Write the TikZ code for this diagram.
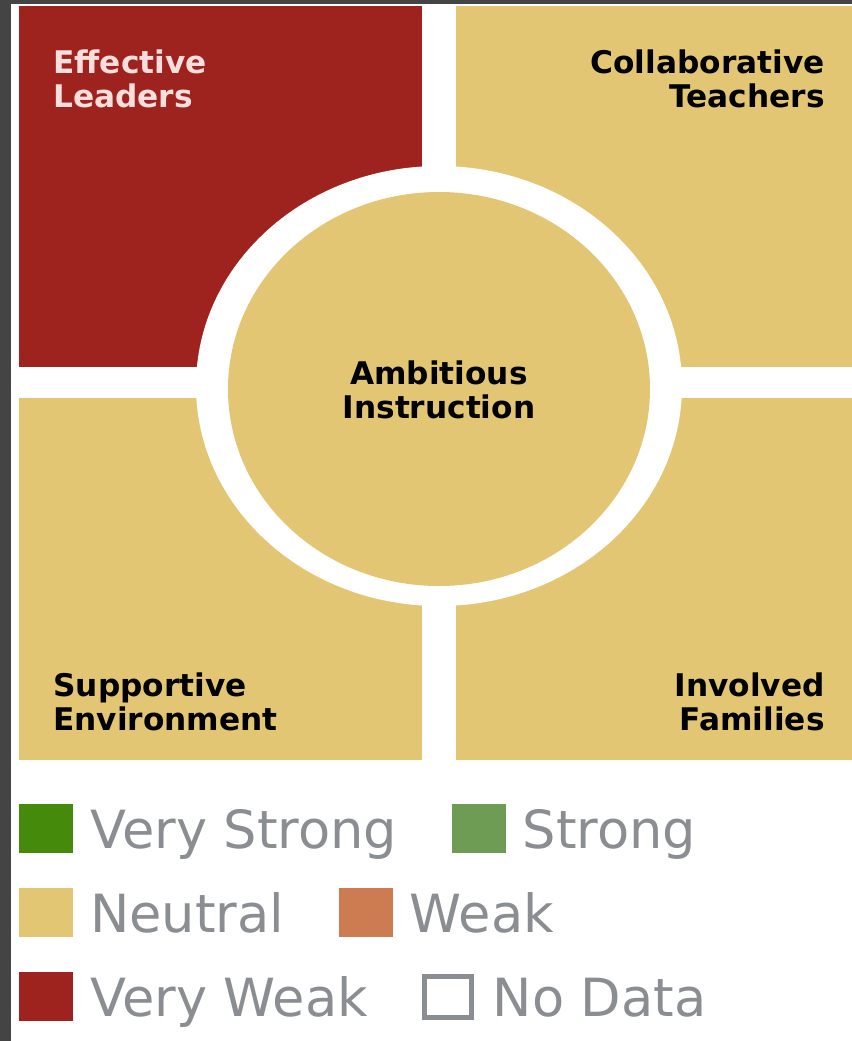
\documentclass[tikz,border=0pt]{standalone}
\usepackage{fontspec}
\setmainfont{DejaVu Sans}
\usetikzlibrary{positioning}
\definecolor{veryweak}{HTML}{9E231E}
\definecolor{neutral}{HTML}{E3C673}
\definecolor{verystrong}{HTML}{468A0C}
\definecolor{strong}{HTML}{6E9C55}
\definecolor{weak}{HTML}{CD7C52}
\definecolor{keygray}{HTML}{8A8D91}
\definecolor{leadertext}{HTML}{F8DEDC}
\definecolor{framegray}{HTML}{444444}

\begin{document}
\begin{tikzpicture}[x=0.5pt,y=-0.5pt,node distance=8pt and 8pt,
  quad/.style={font=\fontsize{15.6}{17}\selectfont\bfseries,inner sep=0pt},
  keybox/.style={minimum width=27pt,minimum height=24.5pt,inner sep=0pt},
  keytext/.style={font=\fontsize{26.3}{30}\selectfont,text=keygray,inner sep=0pt,
    text height=19.2pt,text depth=0pt}]
\useasboundingbox (0,0) rectangle (852,1041);
\fill[white] (0,0) rectangle (852,1041);
\fill[framegray] (0,0) rectangle (11,1041);
\fill[framegray] (0,0) rectangle (852,4);
% quadrants
\fill[veryweak] (19,6) rectangle (422,367);
\fill[neutral] (456,6) rectangle (852,367);
\fill[neutral] (19,398) rectangle (422,760);
\fill[neutral] (456,398) rectangle (852,760);
% centre
\fill[white] (439,386) ellipse [x radius=243,y radius=220];
\fill[neutral] (439,389) ellipse [x radius=211,y radius=197];

\node (leaders) [quad,text=leadertext,align=left,anchor=north west] at (53,49) {Effective\\Leaders};
\node (teachers) [quad,align=right,anchor=north east] at (825,49) {Collaborative\\Teachers};
\node (environment) [quad,align=left,anchor=south west] at (53,731) {Supportive\\Environment};
\node (families) [quad,align=right,anchor=south east] at (825,731) {Involved\\Families};
\node (instruction) [quad,align=center] at (439,390) {Ambitious\\Instruction};

% legend
\node (vsbox) [keybox,fill=verystrong,anchor=north west] at (19,804) {};
\node (vstext) [keytext,right=of vsbox] {Very Strong};
\node (sbox) [keybox,fill=strong,right=27pt of vstext] {};
\node (stext) [keytext,right=of sbox] {Strong};
\node (nbox) [keybox,fill=neutral,anchor=north west] at (19,888) {};
\node (ntext) [keytext,right=of nbox] {Neutral};
\node (wbox) [keybox,fill=weak,right=27pt of ntext] {};
\node (wtext) [keytext,right=of wbox] {Weak};
\node (vwbox) [keybox,fill=veryweak,anchor=north west] at (19,972) {};
\node (vwtext) [keytext,right=of vwbox] {Very Weak};
\node (ndbox) [keybox,draw=keygray,line width=2.5pt,minimum width=23.5pt,minimum height=20.5pt,right=27pt of vwtext] {};
\node (ndtext) [keytext,right=9pt of ndbox] {No Data};
\end{tikzpicture}
\end{document}
